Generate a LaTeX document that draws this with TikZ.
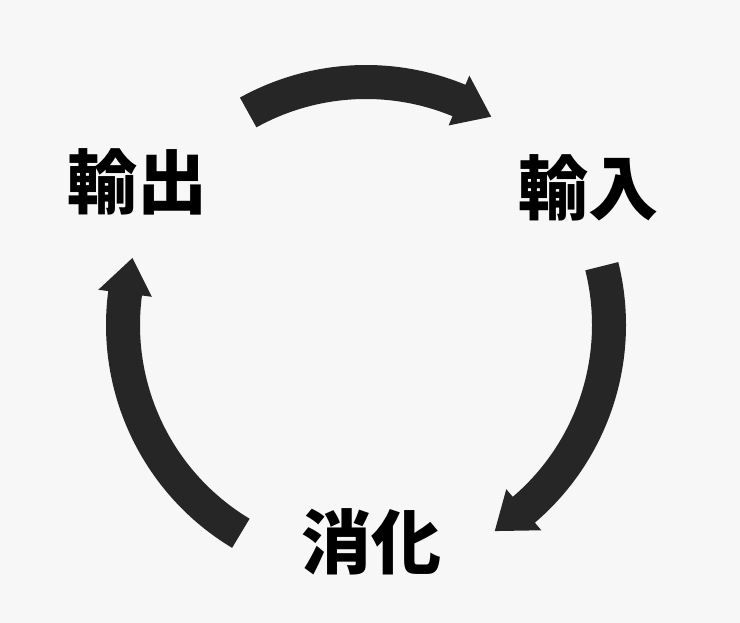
\documentclass[tikz,border=0pt]{standalone}
\usepackage{fontspec}
\newfontfamily\cjk{Noto Sans CJK JP Black}
\tikzset{
  lab/.style={font=\cjk\fontsize{70}{70}\selectfont, text=black, inner sep=0pt},
  arrowfill/.style={fill=black!85}
}
% curved block arrow on a circle of radius 243 (clockwise from #1 to #2)
\newcommand\cycarrow[2]{%
  \pgfmathsetmacro\ca{#1}%
  \pgfmathsetmacro\cb{#2}%
  \pgfmathsetmacro\cbh{#2+8.5}%
  \fill[arrowfill] (\ca:260) arc[start angle=\ca, end angle=\cbh, radius=260]
    -- (\cbh:270) -- (\cb:243) -- (\cbh:216) -- (\cbh:226)
    arc[start angle=\cbh, end angle=\ca, radius=226] -- cycle;}
\begin{document}
\begin{tikzpicture}[x=1pt,y=1pt]
  \fill[white!97!black] (0,0) rectangle (740,623);
  \useasboundingbox (0,0) rectangle (740,623);
  \node[lab] (out) at (137,441) {輸出};
  \node[lab] (in)  at (588,435) {輸入};
  \node[lab] (dig) at (371,81)  {消化};
  \coordinate (c) at (366,298);
  \begin{scope}[shift={(c)}]
    \cycarrow{119}{59}
    \cycarrow{14}{-58}
    \cycarrow{239}{164}
  \end{scope}
\end{tikzpicture}
\end{document}
